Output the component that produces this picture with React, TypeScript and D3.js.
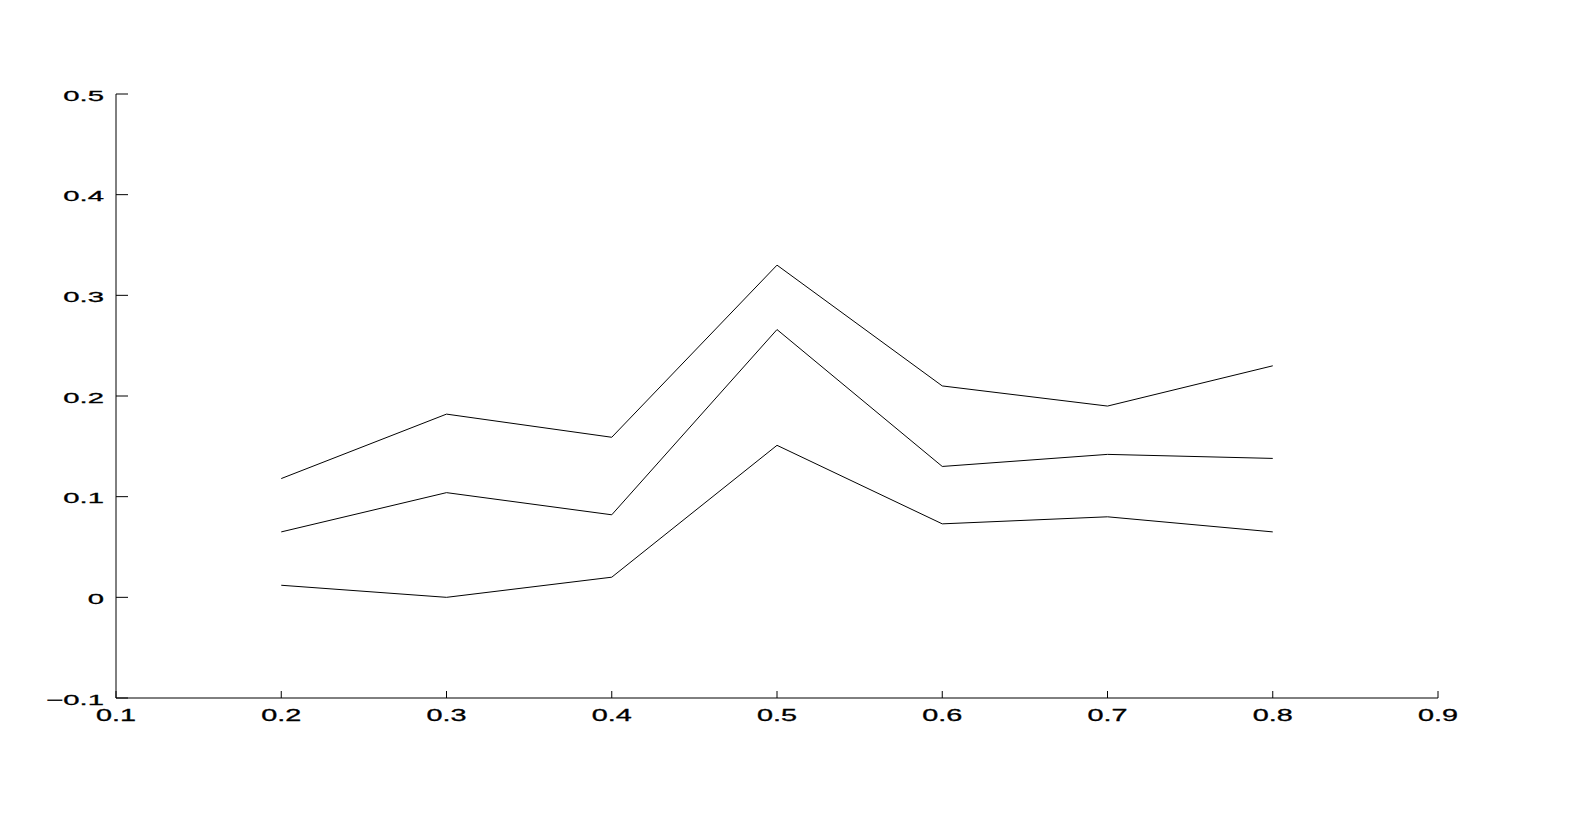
import React from "react";
import * as d3 from "d3";

const xValues = [0.2, 0.3, 0.4, 0.5, 0.6, 0.7, 0.8];
const upperSeries = [0.118, 0.182, 0.159, 0.33, 0.21, 0.19, 0.23];
const middleSeries = [0.065, 0.104, 0.082, 0.266, 0.13, 0.142, 0.138];
const lowerSeries = [0.012, 0.0, 0.02, 0.151, 0.073, 0.08, 0.065];
const xTicks = [0.1, 0.2, 0.3, 0.4, 0.5, 0.6, 0.7, 0.8, 0.9];
const yTicks = [-0.1, 0, 0.1, 0.2, 0.3, 0.4, 0.5];

const W = 1582;
const H = 820;
const left = 116;
const right = 1438;
const top = 94;
const bottom = 698;

function fmt(v: number) {
  if (Math.abs(v) < 1e-9) return "0";
  const s = v.toFixed(1);
  return s.replace("-", "\u2212");
}

export default function App() {
  const x = d3.scaleLinear().domain([0.1, 0.9]).range([left, right]);
  const y = d3.scaleLinear().domain([-0.1, 0.5]).range([bottom, top]);
  const line = d3
    .line<number>()
    .x((_, i) => x(xValues[i]))
    .y((d) => y(d));
  const series = [upperSeries, middleSeries, lowerSeries];
  const font = "'Liberation Sans', Arial, Helvetica, sans-serif";
  return (
    <svg
      width={W}
      height={H}
      style={{ position: "absolute", left: 0, top: 0, background: "#fff" }}
    >
      <rect x={0} y={0} width={W} height={H} fill="#fff" />
      {series.map((s, i) => (
        <path key={i} d={line(s) || ""} fill="none" stroke="#000" strokeWidth={1} />
      ))}
      <line x1={left} y1={top} x2={left} y2={bottom} stroke="#000" strokeWidth={1} />
      <line x1={left} y1={bottom} x2={right} y2={bottom} stroke="#000" strokeWidth={1} />
      {yTicks.map((t) => (
        <g key={"y" + t}>
          <line x1={left} x2={left + 12} y1={y(t)} y2={y(t)} stroke="#000" strokeWidth={1} />
          <text
            transform={`translate(${left - 12},${y(t) + 6.5}) scale(1.95,1)`}
            textAnchor="end"
            fontFamily={font}
            fontSize={15}
            fill="#000"
            stroke="#000"
            strokeWidth={0.3}
          >
            {fmt(t)}
          </text>
        </g>
      ))}
      {xTicks.map((t) => (
        <g key={"x" + t}>
          <line x1={x(t)} x2={x(t)} y1={bottom} y2={bottom - 7} stroke="#000" strokeWidth={1} />
          <text
            transform={`translate(${x(t)},${bottom + 22.7}) scale(1.8,1)`}
            textAnchor="middle"
            fontFamily={font}
            fontSize={16}
            fill="#000"
            stroke="#000"
            strokeWidth={0.3}
          >
            {fmt(t)}
          </text>
        </g>
      ))}
    </svg>
  );
}
